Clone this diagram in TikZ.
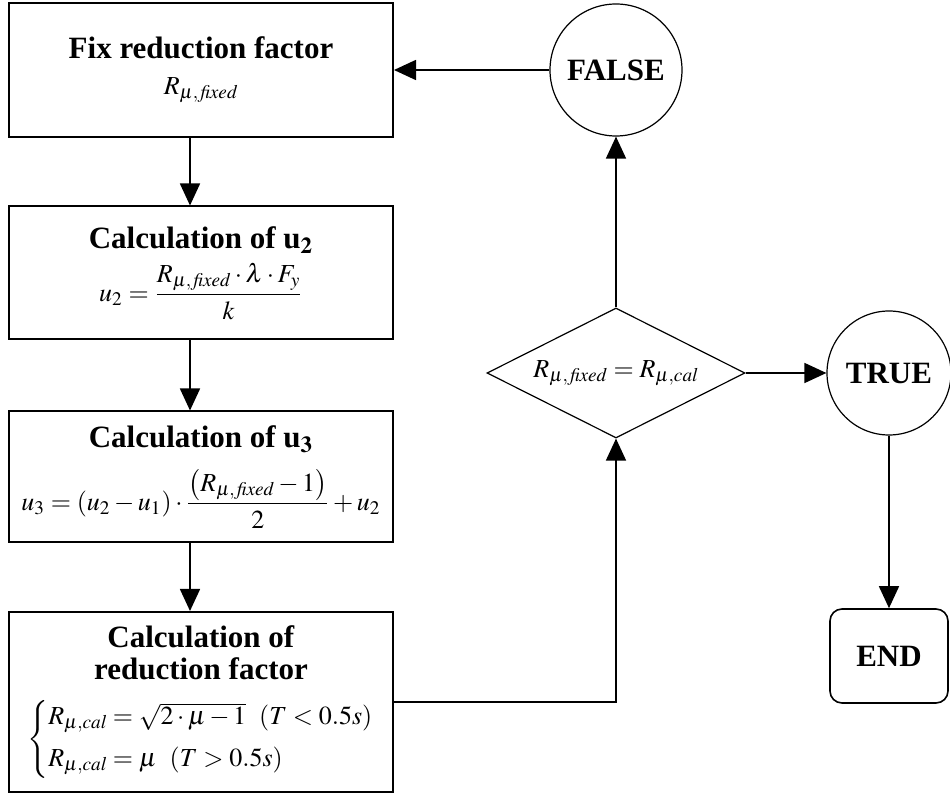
\documentclass[tikz,border=0pt]{standalone}
\usepackage{amsmath}
\usepackage{mathptmx}
\usepackage{fontspec}
\setmainfont{Liberation Serif}
\usetikzlibrary{shapes.geometric,arrows.meta}

\newcommand{\Rfix}{R_{\mu,\,\mathit{fixed}}}
\newcommand{\Rcal}{R_{\mu,\mathit{cal}}}
\newcommand{\mathsz}{\fontsize{13}{15}\selectfont}

\begin{document}
\begin{tikzpicture}[x=0.5pt,y=-0.5pt,
  font=\fontsize{15.5}{16}\selectfont,
  process/.style={draw,line width=1pt,minimum width=192pt,align=center,inner sep=0pt},
  decision/.style={draw,diamond,line width=0.6pt,minimum width=129pt,minimum height=65pt,inner sep=0pt,aspect=2,font=\mathsz},
  state/.style={draw,circle,line width=0.6pt,inner sep=0pt,font=\fontsize{15.5}{17}\selectfont\bfseries},
  terminal/.style={draw,rounded corners=6pt,line width=0.8pt,minimum width=59pt,minimum height=47pt,font=\fontsize{15.5}{17}\selectfont\bfseries},
  flow/.style={line width=0.8pt,-{Triangle[length=11pt,width=10pt]}}]
\useasboundingbox (0,0) rectangle (950,796);

\node[process,minimum height=67pt] (fix) at (201,70)
  {\textbf{Fix reduction factor}\\[2pt] \mathsz$\Rfix$};
\node[process,minimum height=66.5pt] (u2) at (201,273)
  {\textbf{Calculation of u$_{\mathbf{2}}$}\\[4pt]
   \mathsz$u_2=\dfrac{\Rfix\cdot\lambda\cdot F_y}{k}$};
\node[process,minimum height=65.5pt] (u3) at (201,477)
  {\textbf{Calculation of u$_{\mathbf{3}}$}\\[7pt]
   \mathsz$u_3=\left(u_2-u_1\right)\cdot\dfrac{\left(\Rfix-1\right)}{2}+u_2$};
\node[process,minimum height=90pt] (red) at (201,702)
  {\textbf{Calculation of}\\ \textbf{reduction factor}\\[9pt]
   \mathsz$\left\{\begin{array}{@{}l@{}}\Rcal=\sqrt{2\cdot\mu-1}\enspace(T<0.5s)\\[6pt]
   \Rcal=\mu\enspace(T>0.5s)\end{array}\right.$};

\node[state,minimum size=66pt] (false) at (616,70) {FALSE};
\node[decision] (cond) at (616,373) {$\Rfix=\Rcal$};
\node[state,minimum size=62pt] (true) at (889,373) {TRUE};
\node[terminal] (end) at (889,656) {END};

\coordinate (axis) at (190,0);
\draw[flow] (axis |- fix.south) -- (axis |- u2.north);
\draw[flow] (axis |- u2.south) -- (axis |- u3.north);
\draw[flow] (axis |- u3.south) -- (axis |- red.north);
\draw[flow] (red.east) -| (cond.south);
\draw[flow] (cond.north) -- (false.south);
\draw[flow] (false.west) -- (fix.east);
\draw[flow] (cond.east) -- (true.west);
\draw[flow] (true.south) -- (end.north);
\end{tikzpicture}
\end{document}
